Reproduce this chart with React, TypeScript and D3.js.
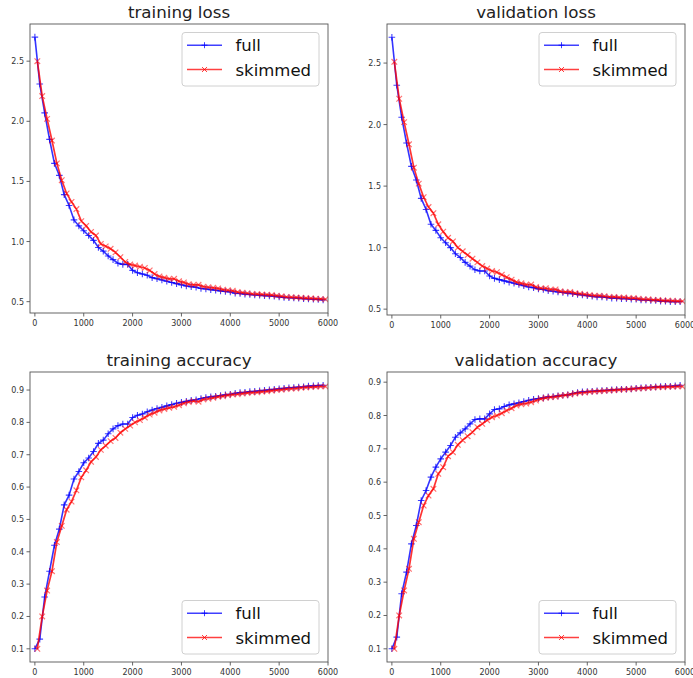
import React from 'react';
import * as d3 from 'd3';

// steps: "full" logged every 100, "skimmed" offset by 50
const fullSteps = d3.range(0, 6000, 100);
const skimSteps = d3.range(50, 6000, 100);

const trainLossFull = [
  2.70, 2.31, 2.07, 1.85, 1.65, 1.55, 1.39, 1.30, 1.18, 1.13,
  1.09, 1.05, 1.01, 0.95, 0.92, 0.88, 0.85, 0.82, 0.81, 0.81,
  0.76, 0.74, 0.73, 0.72, 0.70, 0.69, 0.68, 0.67, 0.66, 0.65,
  0.64, 0.63, 0.625, 0.62, 0.61, 0.605, 0.60, 0.595, 0.59, 0.585,
  0.58, 0.57, 0.568, 0.563, 0.56, 0.555, 0.553, 0.55, 0.548, 0.545,
  0.54, 0.535, 0.532, 0.53, 0.528, 0.525, 0.522, 0.52, 0.518, 0.515,
];
const trainLossSkim = [
  2.50, 2.21, 2.02, 1.84, 1.65, 1.51, 1.40, 1.33, 1.27, 1.17,
  1.13, 1.08, 1.05, 0.98, 0.96, 0.94, 0.91, 0.87, 0.83, 0.81,
  0.80, 0.79, 0.78, 0.76, 0.73, 0.71, 0.70, 0.69, 0.69, 0.67,
  0.66, 0.645, 0.64, 0.64, 0.625, 0.62, 0.615, 0.61, 0.60, 0.595,
  0.59, 0.58, 0.575, 0.57, 0.565, 0.563, 0.56, 0.558, 0.555, 0.55,
  0.545, 0.54, 0.537, 0.535, 0.532, 0.53, 0.528, 0.525, 0.523, 0.52,
];
const valLossFull = [
  2.71, 2.32, 2.06, 1.85, 1.66, 1.55, 1.40, 1.31, 1.19, 1.14,
  1.08, 1.04, 1.00, 0.95, 0.92, 0.88, 0.85, 0.82, 0.81, 0.81,
  0.77, 0.75, 0.74, 0.73, 0.72, 0.71, 0.70, 0.69, 0.68, 0.675,
  0.665, 0.66, 0.65, 0.645, 0.64, 0.635, 0.63, 0.625, 0.62, 0.615,
  0.61, 0.605, 0.60, 0.60, 0.595, 0.59, 0.59, 0.585, 0.585, 0.58,
  0.58, 0.575, 0.575, 0.57, 0.57, 0.565, 0.565, 0.56, 0.56, 0.56,
];
const valLossSkim = [
  2.51, 2.21, 2.02, 1.84, 1.65, 1.52, 1.41, 1.33, 1.28, 1.19,
  1.13, 1.08, 1.05, 1.00, 0.97, 0.94, 0.91, 0.88, 0.85, 0.83,
  0.81, 0.80, 0.78, 0.76, 0.74, 0.72, 0.71, 0.70, 0.70, 0.68,
  0.67, 0.67, 0.66, 0.66, 0.645, 0.64, 0.64, 0.63, 0.625, 0.62,
  0.615, 0.61, 0.61, 0.605, 0.60, 0.60, 0.595, 0.595, 0.59, 0.59,
  0.585, 0.58, 0.58, 0.575, 0.575, 0.57, 0.57, 0.568, 0.565, 0.565,
];
const trainAccFull = [
  0.10, 0.13, 0.26, 0.34, 0.42, 0.47, 0.545, 0.575, 0.625, 0.648,
  0.675, 0.69, 0.71, 0.735, 0.745, 0.765, 0.78, 0.79, 0.795, 0.795,
  0.815, 0.822, 0.826, 0.833, 0.838, 0.843, 0.847, 0.851, 0.855, 0.859,
  0.862, 0.865, 0.868, 0.87, 0.874, 0.877, 0.879, 0.881, 0.883, 0.885,
  0.887, 0.89, 0.892, 0.893, 0.895, 0.896, 0.898, 0.899, 0.901, 0.902,
  0.904, 0.905, 0.907, 0.908, 0.909, 0.91, 0.912, 0.913, 0.914, 0.915,
];
const trainAccSkim = [
  0.10, 0.20, 0.28, 0.34, 0.43, 0.48, 0.53, 0.555, 0.59, 0.63,
  0.652, 0.678, 0.693, 0.715, 0.728, 0.742, 0.752, 0.768, 0.78, 0.79,
  0.80, 0.807, 0.815, 0.824, 0.83, 0.837, 0.841, 0.845, 0.848, 0.853,
  0.859, 0.863, 0.866, 0.864, 0.871, 0.873, 0.876, 0.879, 0.881, 0.884,
  0.886, 0.887, 0.889, 0.891, 0.892, 0.893, 0.895, 0.896, 0.898, 0.90,
  0.901, 0.903, 0.904, 0.905, 0.907, 0.908, 0.909, 0.91, 0.911, 0.911,
];
const valAccFull = [
  0.10, 0.135, 0.265, 0.33, 0.415, 0.47, 0.545, 0.575, 0.615, 0.645,
  0.67, 0.69, 0.71, 0.735, 0.748, 0.76, 0.775, 0.788, 0.79, 0.79,
  0.805, 0.818, 0.82, 0.827, 0.832, 0.835, 0.838, 0.842, 0.846, 0.849,
  0.851, 0.853, 0.856, 0.857, 0.859, 0.861, 0.862, 0.866, 0.869, 0.871,
  0.872, 0.873, 0.874, 0.875, 0.876, 0.877, 0.878, 0.879, 0.879, 0.88,
  0.882, 0.883, 0.884, 0.885, 0.886, 0.887, 0.888, 0.888, 0.889, 0.891,
];
const valAccSkim = [
  0.10, 0.20, 0.275, 0.34, 0.43, 0.48, 0.53, 0.56, 0.58, 0.625,
  0.645, 0.678, 0.69, 0.712, 0.726, 0.738, 0.75, 0.765, 0.775, 0.786,
  0.795, 0.80, 0.807, 0.815, 0.822, 0.83, 0.834, 0.836, 0.84, 0.845,
  0.85, 0.853, 0.855, 0.856, 0.859, 0.861, 0.863, 0.866, 0.868, 0.869,
  0.871, 0.872, 0.873, 0.874, 0.875, 0.876, 0.877, 0.878, 0.879, 0.88,
  0.881, 0.882, 0.883, 0.884, 0.885, 0.885, 0.886, 0.886, 0.887, 0.887,
];

const xTicks = [0, 1000, 2000, 3000, 4000, 5000, 6000];
const lossTicks = [0.5, 1.0, 1.5, 2.0, 2.5];
const accTicks = [0.1, 0.2, 0.3, 0.4, 0.5, 0.6, 0.7, 0.8, 0.9];
const seriesNames = ['full', 'skimmed'];

const FONT = '"DejaVu Sans", sans-serif';
const BLUE = '#0000ff';
const RED = '#ff0000';

type PanelProps = {
  title: string;
  full: number[];
  skim: number[];
  yTicks: number[];
  legendTop: boolean;
  box: [number, number, number, number]; // left, top, right, bottom
};

const plus = (x: number, y: number, r: number) =>
  `M${x - r},${y}h${2 * r}M${x},${y - r}v${2 * r}`;
const cross = (x: number, y: number, r: number) =>
  `M${x - r},${y - r}l${2 * r},${2 * r}M${x - r},${y + r}l${2 * r},${-2 * r}`;

const Panel = ({ title, full, skim, yTicks, legendTop, box }: PanelProps) => {
  const [l, t, r, b] = box;
  const all = full.concat(skim);
  const lo = d3.min(all)!;
  const hi = d3.max(all)!;
  const m = (hi - lo) * 0.05;

  const x = d3.scaleLinear().domain([-100, 6000]).range([l, r]);
  const y = d3.scaleLinear().domain([lo - m, hi + m]).range([b, t]);

  const line = d3.line<[number, number]>().x((d) => x(d[0])).y((d) => y(d[1]));
  const fullPts: [number, number][] = fullSteps.map((s, i) => [s, full[i]]);
  const skimPts: [number, number][] = skimSteps.map((s, i) => [s, skim[i]]);

  const fmt = d3.format('.1f');
  const id = `clip-${title.replace(/\s/g, '')}`;

  const lw = 137;
  const lh = 53.5;
  const lx = r - 9 - lw;
  const ly = legendTop ? t + 8.5 : b - 8 - lh;

  return (
    <g>
      <clipPath id={id}>
        <rect x={l} y={t} width={r - l} height={b - t} />
      </clipPath>
      <g clipPath={`url(#${id})`}>
        <path d={line(fullPts)!} fill="none" stroke={BLUE} strokeOpacity={0.8} strokeWidth={1.6} />
        <path
          d={fullPts.map((p) => plus(x(p[0]), y(p[1]), 3.3)).join('')}
          fill="none" stroke={BLUE} strokeOpacity={0.75} strokeWidth={1.1}
        />
        <path d={line(skimPts)!} fill="none" stroke={RED} strokeOpacity={0.8} strokeWidth={1.7} />
        <path
          d={skimPts.map((p) => cross(x(p[0]), y(p[1]), 2.8)).join('')}
          fill="none" stroke={RED} strokeOpacity={0.55} strokeWidth={1.2}
        />
      </g>

      <rect x={l} y={t} width={r - l} height={b - t} fill="none" stroke="#555" strokeWidth={0.9} />

      {xTicks.map((v) => (
        <g key={v}>
          <line x1={x(v)} x2={x(v)} y1={b} y2={b + 3.5} stroke="#555" strokeWidth={0.9} />
          <text x={x(v)} y={b + 13} textAnchor="middle" fontFamily={FONT} fontSize={8} fill="#333">
            {v}
          </text>
        </g>
      ))}
      {yTicks.map((v) => (
        <g key={v}>
          <line x1={l - 3.5} x2={l} y1={y(v)} y2={y(v)} stroke="#555" strokeWidth={0.9} />
          <text x={l - 6} y={y(v) + 3} textAnchor="end" fontFamily={FONT} fontSize={8} fill="#333">
            {fmt(v)}
          </text>
        </g>
      ))}

      <text x={(l + r) / 2} y={t - 6.5} textAnchor="middle" fontFamily={FONT} fontSize={16.7} fill="#222">
        {title}
      </text>

      <g transform={`translate(${lx},${ly})`}>
        <rect width={lw} height={lh} rx={3} fill="#fff" fillOpacity={0.8} stroke="#d0d0d0" strokeWidth={1} />
        {seriesNames.map((name, i) => {
          const cy = 12.7 + i * 24.3;
          const col = i === 0 ? BLUE : RED;
          return (
            <g key={name}>
              <line x1={5} x2={40} y1={cy} y2={cy} stroke={col} strokeOpacity={0.75} strokeWidth={1.5} />
              <path
                d={i === 0 ? plus(22.5, cy, 3) : cross(22.5, cy, 2.5)}
                fill="none" stroke={col} strokeOpacity={0.75} strokeWidth={1}
              />
              <text x={53.5} y={cy + 6} fontFamily={FONT} fontSize={16.5} fill="#111">
                {name}
              </text>
            </g>
          );
        })}
      </g>
    </g>
  );
};

export default function App() {
  return (
    <svg
      width={693}
      height={678}
      style={{ position: 'absolute', left: 0, top: 0, background: '#fff' }}
    >
      <rect width={693} height={678} fill="#fff" />
      <Panel title="training loss" full={trainLossFull} skim={trainLossSkim} yTicks={lossTicks} legendTop box={[30, 24, 328, 313]} />
      <Panel title="validation loss" full={valLossFull} skim={valLossSkim} yTicks={lossTicks} legendTop box={[387, 24, 685, 315]} />
      <Panel title="training accuracy" full={trainAccFull} skim={trainAccSkim} yTicks={accTicks} legendTop={false} box={[30, 372, 328, 662]} />
      <Panel title="validation accuracy" full={valAccFull} skim={valAccSkim} yTicks={accTicks} legendTop={false} box={[387, 372, 685, 662]} />
    </svg>
  );
}
